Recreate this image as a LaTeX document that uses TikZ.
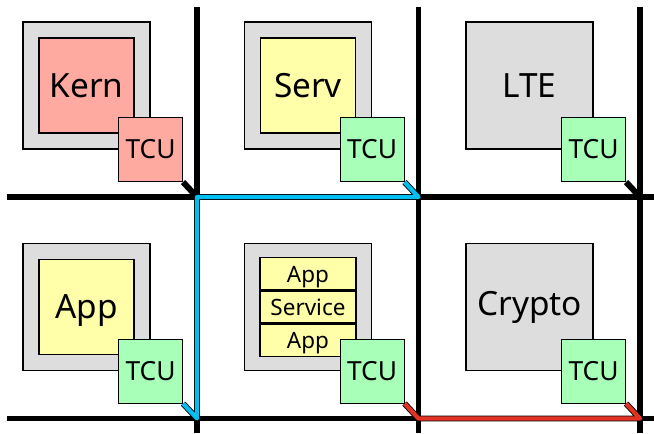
\documentclass[tikz,border=0pt]{standalone}
\usepackage{fontspec}
\setmainfont{Noto Sans}
\usepackage{xcolor}
\usetikzlibrary{
  positioning,
  calc,
  backgrounds}
\definecolor{tilegray}{RGB}{221,221,221}
\definecolor{kernred}{RGB}{255,170,160}
\definecolor{appyellow}{RGB}{255,255,170}
\definecolor{tcugreen}{RGB}{168,255,184}
\definecolor{noccyan}{RGB}{0,190,240}
\definecolor{nocred}{RGB}{225,50,35}
\tikzset{tile/.style={draw, fill=tilegray, minimum size=2.54cm, line width=0.6pt,
                      font=\fontsize{19}{22}\selectfont},
         pe/.style={draw, minimum size=1.9cm, line width=0.6pt, text height=13.6pt, text depth=0pt,
                    font=\fontsize{19}{22}\selectfont},
         tcu/.style={draw, fill=tcugreen, minimum size=1.28cm, line width=0.6pt,
                     text height=10.7pt, text depth=0pt, font=\fontsize{15}{18}\selectfont},
         layer/.style={draw, fill=appyellow, minimum width=1.92cm, minimum height=0.64cm,
                       inner sep=0pt, line width=0.6pt, text height=9.2pt, text depth=0pt,
                       font=\fontsize{12.8}{14}\selectfont},
         link/.style={line width=3.4pt},
         route/.style={double=#1, double distance=2.4pt, line width=0.5pt, line join=round}
        }

\begin{document}
\begin{tikzpicture}
\useasboundingbox (0,0) rectangle (13.08,8.66);

%Router junctions
\coordinate (j00) at (3.94,4.72);
\coordinate (j10) at (8.37,4.72);
\coordinate (j20) at (12.80,4.72);
\coordinate (j01) at (3.94,0.29);
\coordinate (j11) at (8.37,0.29);
\coordinate (j21) at (12.80,0.29);

%Top row
\node[tile] (kerntile) at ($(j00)+(-2.21,2.23)$) {};
\node[pe, fill=kernred] (kern) at (kerntile) {Kern};
\node[tcu, fill=kernred] (kerntcu) at (kerntile.south east) {TCU};

\node[tile] (servtile) at ($(j10)+(-2.21,2.23)$) {};
\node[pe, fill=appyellow] (serv) at (servtile) {Serv};
\node[tcu] (servtcu) at (servtile.south east) {TCU};

\node[tile] (lte) at ($(j20)+(-2.21,2.23)$) {LTE};
\node[tcu] (ltetcu) at (lte.south east) {TCU};

%Bottom row
\node[tile] (apptile) at ($(j01)+(-2.21,2.23)$) {};
\node[pe, fill=appyellow] (app) at (apptile) {App};
\node[tcu] (apptcu) at (apptile.south east) {TCU};

\node[tile] (stacktile) at ($(j11)+(-2.21,2.23)$) {};
\node[layer] (service) at (stacktile) {Service};
\node[layer, above=0pt of service] (appup) {App};
\node[layer, below=0pt of service] (appdown) {App};
\node[tcu] (stacktcu) at (stacktile.south east) {TCU};

\node[tile] (crypto) at ($(j21)+(-2.21,2.23)$) {Crypto};
\node[tcu] (cryptotcu) at (crypto.south east) {TCU};

\begin{scope}[on background layer]
%Network
\draw[link] (3.94,8.52) -- (3.94,0);
\draw[link] (8.37,8.52) -- (8.37,0);
\draw[link] (12.80,8.52) -- (12.80,0);
\draw[link] (0.14,4.72) -- (13.08,4.72);
\draw[link] (0.14,0.29) -- (13.08,0.29);

\draw[link] (kerntcu.south east) -- (j00);
\draw[link] (ltetcu.south east) -- (j20);

\draw[route=noccyan] (servtcu.south east) -- (j10) -- (j00) -- (j01) -- (apptcu.south east);
\draw[route=nocred] (stacktcu.south east) -- (j11) -- (j21) -- (cryptotcu.south east);
\end{scope}
\end{tikzpicture}
\end{document}
